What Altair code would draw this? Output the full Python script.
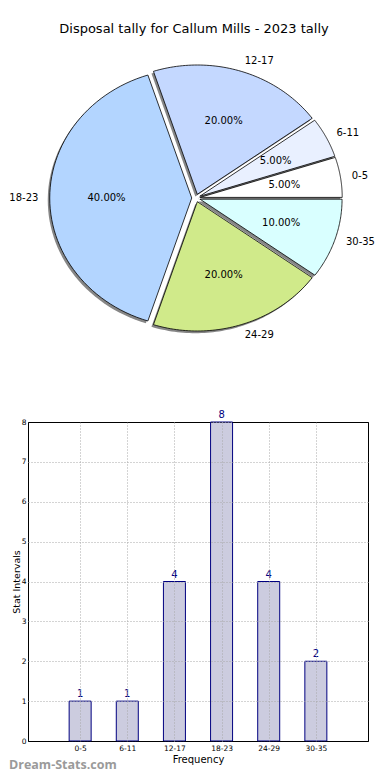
import altair as alt
import pandas as pd

title_text = "Disposal tally for Callum Mills - 2023 tally"
labels = ["0-5", "6-11", "12-17", "18-23", "24-29", "30-35"]
counts = [1, 1, 4, 8, 4, 2]
slice_colors = ["#ffffff", "#e9f0ff", "#c4d8ff", "#b3d5ff", "#d0ea8a", "#d9ffff"]
x_title = "Frequency"
y_title = "Stat Intervals"
watermark = "Dream-Stats.com"

EXPLODE = 0.03
LABEL_R = 1.08
NSEG = 60
XMIN, XMAX = -1.1831, 1.2887
DY = 1.16
FONT = "DejaVu Sans"

df = pd.DataFrame({"lab": labels, "v": counts, "col": slice_colors,
                   "i": list(range(len(labels)))})

xs = alt.Scale(domain=[XMIN, XMAX], nice=False, zero=False)
ys = alt.Scale(domain=[-DY, DY], nice=False, zero=False)

base = (
    alt.Chart(df)
    .transform_joinaggregate(total="sum(v)")
    .transform_window(cum="sum(v)", sort=[alt.SortField("i")], frame=[None, 0])
    .transform_calculate(a0="2*PI*(datum.cum - datum.v)/datum.total")
    .transform_calculate(a1="2*PI*datum.cum/datum.total")
    .transform_calculate(mid="(datum.a0 + datum.a1)/2")
    .transform_calculate(ex=f"{EXPLODE}*cos(datum.mid)")
    .transform_calculate(ey=f"{EXPLODE}*sin(datum.mid)")
    .transform_calculate(pct="format(100*datum.v/datum.total, '.2f') + '%'")
)

poly = (
    base.transform_calculate(k=f"sequence(0, {NSEG + 2})")
    .transform_flatten(["k"])
    .transform_calculate(t=f"(datum.k - 1)/{NSEG}")
    .transform_calculate(ang="datum.a0 + datum.t*(datum.a1 - datum.a0)")
    .transform_calculate(px="datum.k == 0 ? datum.ex : datum.ex + cos(datum.ang)")
    .transform_calculate(py="datum.k == 0 ? datum.ey : datum.ey + sin(datum.ang)")
    .transform_calculate(sx="datum.px - 0.014")
    .transform_calculate(sy="datum.py - 0.017")
)

shadow = poly.mark_line(filled=True, interpolate="linear-closed", fill="#868686",
                        stroke="transparent").encode(
    x=alt.X("sx:Q", scale=xs, axis=None),
    y=alt.Y("sy:Q", scale=ys, axis=None),
    detail="lab:N",
    order="k:Q",
)

slices = poly.mark_line(filled=True, interpolate="linear-closed", stroke="black",
                        strokeWidth=0.8).encode(
    x=alt.X("px:Q", scale=xs, axis=None),
    y=alt.Y("py:Q", scale=ys, axis=None),
    fill=alt.Fill("col:N", scale=None),
    detail="lab:N",
    order="k:Q",
)

lab_pos = (
    base.transform_calculate(lx=f"({LABEL_R + EXPLODE})*cos(datum.mid)")
    .transform_calculate(ly=f"({LABEL_R + EXPLODE})*sin(datum.mid)")
)
lab_left = lab_pos.transform_filter("cos(datum.mid) >= 0").mark_text(
    align="left", baseline="middle", fontSize=10, font=FONT, color="black"
).encode(x=alt.X("lx:Q", scale=xs, axis=None), y=alt.Y("ly:Q", scale=ys, axis=None), text="lab:N")
lab_right = lab_pos.transform_filter("cos(datum.mid) < 0").mark_text(
    align="right", baseline="middle", fontSize=10, font=FONT, color="black"
).encode(x=alt.X("lx:Q", scale=xs, axis=None), y=alt.Y("ly:Q", scale=ys, axis=None), text="lab:N")

pct = (
    base.transform_calculate(qx=f"({0.6 + EXPLODE})*cos(datum.mid)")
    .transform_calculate(qy=f"({0.6 + EXPLODE})*sin(datum.mid)")
    .mark_text(align="center", baseline="middle", fontSize=10, font=FONT, color="black")
    .encode(x=alt.X("qx:Q", scale=xs, axis=None), y=alt.Y("qy:Q", scale=ys, axis=None), text="pct:N")
)

pie = alt.layer(shadow, slices, lab_left, lab_right, pct).properties(
    width=351, height=300, view=alt.ViewBackground(stroke="transparent")
)

# ---- bar chart ----
bdf = pd.DataFrame({"lab": labels, "v": counts, "i": list(range(len(labels)))})
label_expr = "[" + ",".join(f"'{l}'" for l in labels) + "][datum.value]"
xsc = alt.Scale(domain=[-1, len(labels)], nice=False, zero=False)
ysc = alt.Scale(domain=[0, 8], nice=False, zero=False)

xaxis = alt.Axis(values=list(range(len(labels))), labelExpr=label_expr, title=x_title,
                 grid=True, gridDash=[1, 2], gridColor="#a8a8a8", ticks=False, domain=False,
                 labelFontSize=7.5, labelPadding=3, labelColor="black", labelOverlap=False,
                 titleFontSize=10, titleFontWeight="normal", titlePadding=3,
                 titleColor="black", zindex=1)
yaxis = alt.Axis(values=list(range(9)), title=y_title, grid=True, gridDash=[1, 2],
                 gridColor={"condition": {"test": "datum.value == 0 || datum.value == 8",
                                          "value": "black"}, "value": "#a8a8a8"},
                 ticks=False, domain=False, labelFontSize=7.5, labelPadding=2,
                 labelOverlap=False, labelColor="black", titleFontSize=9.5,
                 titleFontWeight="normal", titlePadding=0, titleColor="black", zindex=1)

bars = alt.Chart(bdf).mark_bar(size=22, fill="#ccccdf", stroke="#000080", strokeWidth=1).encode(
    x=alt.X("i:Q", scale=xsc, axis=xaxis),
    y=alt.Y("v:Q", scale=ysc, axis=yaxis),
)
btext = alt.Chart(bdf).mark_text(baseline="bottom", dy=-2, color="#000080", fontSize=10,
                                 font=FONT).encode(
    x=alt.X("i:Q", scale=xsc, axis=xaxis),
    y=alt.Y("v:Q", scale=ysc, axis=yaxis),
    text="v:Q",
)
wm = alt.Chart(pd.DataFrame({"t": [watermark]})).mark_text(
    align="left", baseline="alphabetic", fontSize=12.5, fontWeight="bold", font="Open Sans",
    color="#9a9a9a"
).encode(x=alt.value(-19), y=alt.value(347), text="t:N")

bar_chart = alt.layer(bars, btext, wm).properties(
    width=340, height=319, view=alt.ViewBackground(stroke="black", strokeWidth=1)
)

chart = alt.vconcat(pie, bar_chart, spacing=60).properties(
    title=alt.TitleParams(title_text, fontSize=13, font=FONT, fontWeight="normal",
                          anchor="middle", offset=12, color="black"),
    padding={"left": 0, "top": 14, "right": 0, "bottom": 0},
).configure(font=FONT)

chart.save("out.html", embed_options={"renderer": "svg", "actions": False})
